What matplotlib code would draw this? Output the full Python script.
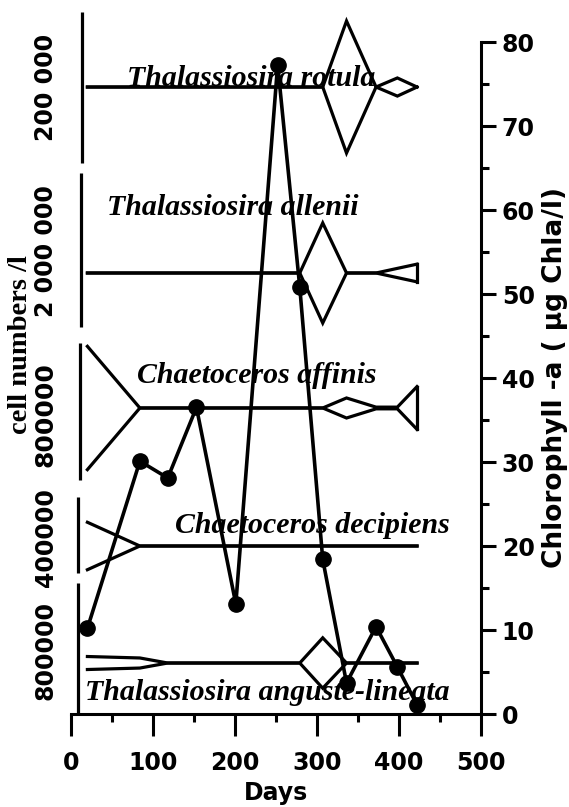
import matplotlib
matplotlib.use("Agg")
import matplotlib.pyplot as plt
import numpy as np

# ---------------- data ----------------
chl_days = [20, 84, 118, 153, 201, 252, 279, 307, 336, 372, 398, 422]
chl_values = [10.2, 30.1, 28.1, 36.5, 13.1, 77.3, 50.8, 18.4, 3.7, 10.4, 5.6, 1.1]

kite_days = [20, 84, 118, 153, 201, 252, 279, 307, 336, 372, 398, 422]
rotula_cells = [0, 0, 0, 0, 0, 0, 0, 0, 175000, 0, 24000, 0]
allenii_cells = [0, 0, 0, 0, 0, 0, 0, 1300000, 0, 0, 120000, 230000]
affinis_cells = [720000, 0, 0, 0, 0, 0, 0, 0, 117000, 10000, 10000, 250000]
decipiens_cells = [250000, 0, 0, 0, 0, 0, 0, 0, 0, 0, 0, 0]
anguste_cells = [80000, 62000, 0, 0, 0, 0, 0, 310000, 0, 0, 0, 0]

species_names = ["Thalassiosira rotula", "Thalassiosira allenii", "Chaetoceros affinis",
                 "Chaetoceros decipiens", "Thalassiosira anguste-lineata"]
scale_values = [200000, 2000000, 800000, 400000, 800000]
scale_labels = ["200 000", "2 000 000", "800000", "400000", "800000"]

x_ticks = [0, 100, 200, 300, 400, 500]
y_ticks = [0, 10, 20, 30, 40, 50, 60, 70, 80]

# ---------------- layout ----------------
W, H = 569, 807
fig = plt.figure(figsize=(W / 100, H / 100), dpi=100)
ax = fig.add_axes([71 / W, 93 / H, 410 / W, 672 / H])
ax.set_xlim(0, 500)
ax.set_ylim(0, 80)

lw = 2.3
# kite layout: baseline, scale bar (x, y0, y1), label position, scale label position & size
baselines = [74.64, 52.5, 36.43, 20.0, 6.07]
bars = [(13.0, 65.6, 83.57), (12.0, 46.07, 64.4), (11.0, 27.86, 44.17),
        (8.5, 16.79, 25.83), (8.5, 0.12, 15.6)]
name_pos = [(68, 74.8), (44, 59.4), (80.5, 39.4), (127, 21.5), (17, 1.67)]
scale_label_y = [74.6, 55.1, 35.6, 21.0, 7.6]
scale_label_size = [17, 17, 18, 17, 17]

all_cells = [rotula_cells, allenii_cells, affinis_cells, decipiens_cells, anguste_cells]

for i in range(5):
    cells = np.array(all_cells[i], dtype=float)
    bx, b0, b1 = bars[i]
    blen = b1 - b0
    half = cells / scale_values[i] * blen / 2.0
    base = baselines[i]
    ax.plot(kite_days, base + half, color="black", lw=lw, clip_on=False,
            solid_joinstyle="miter", zorder=2)
    ax.plot(kite_days, base - half, color="black", lw=lw, clip_on=False,
            solid_joinstyle="miter", zorder=2)
    if half[-1] > 0:
        ax.plot([kite_days[-1]] * 2, [base - half[-1], base + half[-1]],
                color="black", lw=lw, clip_on=False, zorder=2)
    # scale bar
    ax.plot([bx, bx], [b0, b1], color="black", lw=lw, clip_on=False,
            solid_capstyle="butt")
    # scale label
    ax.text(-31.0, scale_label_y[i], scale_labels[i], rotation=90, ha="center",
            va="center", fontsize=scale_label_size[i], fontweight="bold",
            family="DejaVu Sans", clip_on=False)
    # species name
    ax.text(name_pos[i][0], name_pos[i][1], species_names[i], ha="left",
            va="baseline", fontsize=21.5, fontweight="bold", style="italic",
            family="Liberation Serif", clip_on=False, zorder=3)

# chlorophyll line
ax.plot(chl_days, chl_values, color="black", lw=2.6, marker="o", ms=11,
        clip_on=False, zorder=5)

# axes styling
for s in ["left", "top"]:
    ax.spines[s].set_visible(False)
for s in ["bottom", "right"]:
    ax.spines[s].set_linewidth(2.2)
ax.yaxis.tick_right()
ax.set_xticks(x_ticks)
ax.set_xticks(np.arange(50, 500, 100), minor=True)
ax.set_yticks(y_ticks)
ax.set_yticks(np.arange(5, 80, 10), minor=True)
ax.tick_params(axis="x", which="major", direction="out", length=16, width=2.2, pad=11)
ax.tick_params(axis="x", which="minor", direction="out", length=6, width=2.2)
ax.tick_params(axis="y", which="major", direction="out", length=11, width=2.2, pad=4,
               left=False, right=True, labelleft=False, labelright=True)
ax.tick_params(axis="y", which="minor", direction="out", length=6, width=2.2,
               left=False, right=True)
for lab in ax.get_xticklabels() + ax.get_yticklabels():
    lab.set_fontsize(17)
    lab.set_fontweight("bold")

fig.text(276 / W, (H - 800) / H, "Days", ha="center", va="baseline",
         fontsize=17, fontweight="bold")
fig.text(555 / W, (H - 377) / H, "Chlorophyll -a ( \u00b5g Chla/l)", rotation=90,
         ha="center", va="center", fontsize=19, fontweight="bold")
fig.text(21 / W, (H - 345) / H, "cell numbers /l", rotation=90, ha="center",
         va="center", fontsize=20.5, fontweight="bold", family="Liberation Serif")

fig.savefig("out.png", dpi=100)
